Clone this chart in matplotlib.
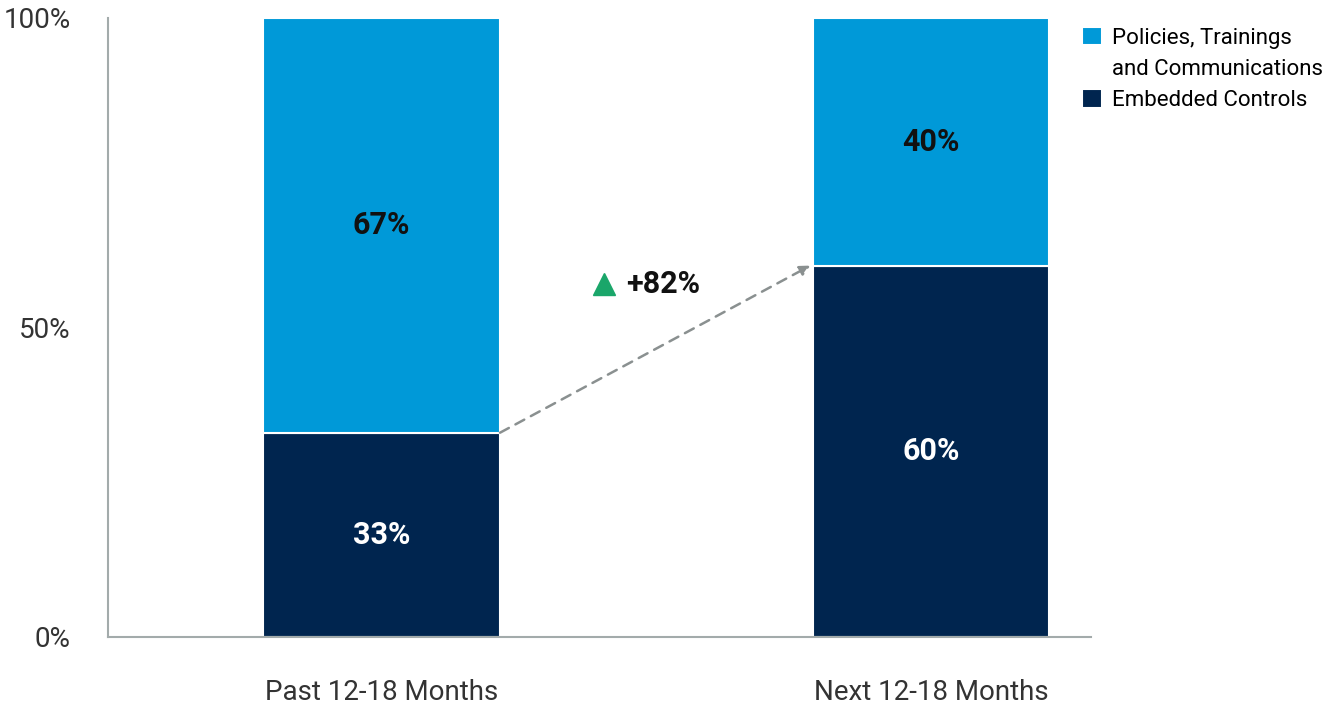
import numpy as np
import matplotlib.pyplot as plt
from matplotlib.patches import Rectangle

plt.rcParams['font.family'] = ['Roboto', 'DejaVu Sans']

# Données
categories = ["Past 12-18 Months", "Next 12-18 Months"]
embedded = [33, 60]
policies = [67, 40]
series_names = ["Policies, Trainings\nand Communications", "Embedded Controls"]
change_label = "+82%"

col_light = "#0099d8"
col_dark = "#00254f"

fig = plt.figure(figsize=(13.39, 7.05), dpi=100)
ax = fig.add_axes([0.0807, 0.0965, 0.734, 0.878])

x = np.arange(len(categories))
w = 0.431
b1 = ax.bar(x, embedded, width=w, color=col_dark, edgecolor="white", linewidth=1.5,
            label=series_names[1], zorder=2)
b2 = ax.bar(x, policies, width=w, bottom=embedded, color=col_light, edgecolor="white",
            linewidth=1.5, label=series_names[0], zorder=2)

for i in range(len(categories)):
    ax.text(x[i], embedded[i] / 2, f"{embedded[i]}%", ha="center", va="center",
            color="white", fontsize=22, fontweight="bold")
    ax.text(x[i], embedded[i] + policies[i] / 2, f"{policies[i]}%", ha="center",
            va="center", color="#111111", fontsize=22, fontweight="bold")

# Flèche pointillée
ax.annotate("", xy=(x[1] - w / 2 - 0.004, embedded[1]), xytext=(x[0] + w / 2, embedded[0]),
            arrowprops=dict(arrowstyle="-|>", color="#8a9090", lw=1.8, ls=(0, (4, 3)),
                            mutation_scale=15, shrinkA=0, shrinkB=0), zorder=3)
ax.plot([0.405], [57.0], marker="^", color="#1aa66a", markersize=16, zorder=3,
        clip_on=False)
ax.text(0.445, 57.0, change_label, ha="left", va="center", fontsize=22,
        fontweight="bold", color="#111111")

ax.set_xlim(-0.498, 1.291)
ax.set_ylim(0, 100)
ax.set_yticks([0, 50, 100])
ax.set_yticklabels(["0%", "50%", "100%"])
ax.set_xticks(x)
ax.set_xticklabels(categories)
ax.tick_params(axis="both", length=0, labelsize=20, colors="#333333")
ax.tick_params(axis="y", pad=27)
ax.tick_params(axis="x", pad=30)
for s in ["top", "right"]:
    ax.spines[s].set_visible(False)
for s in ["left", "bottom"]:
    ax.spines[s].set_color("#a3abab")
    ax.spines[s].set_linewidth(1.5)

# légende : carré aligné sur la première ligne du libellé
first, second = series_names[0].split("\n")
blank = Rectangle((0, 0), 1, 1, fc="none", ec="none")
ax.legend(handles=[b2, blank, b1], labels=[first, second, series_names[1]],
          loc="upper left", bbox_to_anchor=(0.982, 1.0),
          frameon=False, fontsize=16, handlelength=0.9, handleheight=0.9,
          handletextpad=0.45, labelspacing=0.42, borderaxespad=0)

fig.savefig("out.png", dpi=100)
